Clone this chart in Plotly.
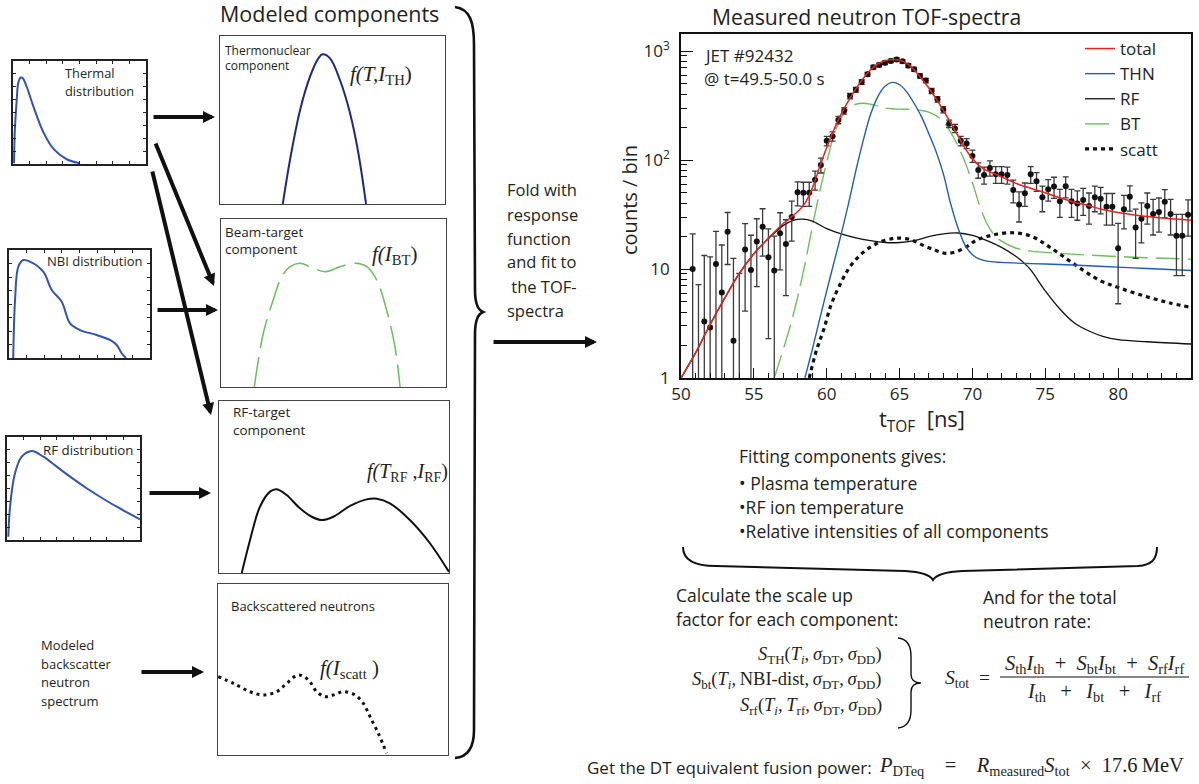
import plotly.graph_objects as go

W, H = 1199, 784
FONT = "Open Sans"
SERIF = "Liberation Serif"
INK = "#231f20"

def X(px):
    return px / W

def Y(py):
    return 1 - py / H

# ---------------- measured TOF spectrum ----------------
tof_x = [50.8, 51.2, 51.6, 52.0, 52.4, 52.8, 53.2, 53.6, 54.0, 54.4, 54.8, 55.2, 55.6, 56.0,
         56.4, 56.8, 57.2, 57.6, 58.0, 58.4, 58.8, 59.2, 59.6, 60.0, 60.4, 60.8, 61.2, 61.6,
         62.0, 62.4, 62.8, 63.2, 63.6, 64.0, 64.4, 64.8, 65.2, 65.6, 66.0, 66.4, 66.8, 67.2,
         67.6, 68.0, 68.4, 68.8, 69.2, 69.6, 70.0, 70.4, 70.8, 71.2, 71.6, 72.0, 72.4, 72.8,
         73.2, 73.6, 74.0, 74.4, 74.8, 75.2, 75.6, 76.0, 76.4, 76.8, 77.2, 77.6, 78.0, 78.4,
         78.8, 79.2, 79.6, 80.0, 80.4, 80.8, 81.2, 81.6, 82.0, 82.4, 82.8, 83.2, 83.6, 84.0,
         84.4, 84.8]
tof_counts = [10.0, 0.7, 3.3, 2.9, 11.1, 6.1, 22.0, 2.2, 0.6, 15.1, 9.8, 17.9, 24.4, 12.8,
              9.7, 21.3, 17.0, 30.0, 50.5, 50.0, 50.0, 66, 90, 150, 165, 233, 283, 386,
              440, 520, 611, 709, 745, 780, 811, 837, 804, 735, 680, 590, 535, 430,
              360, 290, 215, 195, 150, 142, 109, 81, 73, 84.5, 74, 74, 73, 53,
              39, 49.5, 74, 64, 45.5, 54, 57, 41.8, 57.5, 41.8, 40, 43, 37.8, 45.5,
              44, 37.3, 37.3, 15.5, 35.3, 46, 24, 28.9, 37.8, 32, 33.3, 41.4, 32, 20.2,
              20.2, 31.5]
tof_err = [11, 6.5, 10, 10, 11, 10.5, 11, 10.3, 8.5, 11, 10.6, 11, 11.3, 10.5,
           10.3, 11.5, 11.3, 12, 12.5, 12.5, 12.5, 13, 14, 15, 16, 18, 19, 22,
           23, 25, 27, 28, 29, 30, 30, 31, 30, 29, 28, 26, 25, 23,
           21, 19, 17, 17, 15, 15, 14, 13, 13, 13.5, 13, 13, 13, 12.5,
           12, 12, 13, 12.5, 12, 12, 12.5, 12, 12.5, 12, 12, 12, 12, 12,
           12, 12, 12, 10.7, 12, 12, 11.5, 11.5, 12, 11.5, 11.5, 12, 11.5, 11.5,
           11.5, 11.5]

total_x = [50.0, 51.0, 52.0, 53.0, 54.0, 55.0, 56.0, 57.0, 57.5, 58.0, 58.5, 59.0, 59.5, 60.0,
           60.5, 61.0, 61.5, 62.0, 62.5, 63.0, 63.5, 64.0, 64.5, 65.0, 65.5, 66.0, 66.5, 67.0,
           67.5, 68.0, 68.5, 69.0, 69.5, 70.0, 70.5, 71.0, 71.5, 72.0, 73.0, 74.0, 75.0, 76.0,
           77.0, 78.0, 79.0, 80.0, 81.0, 82.0, 83.0, 84.0, 85.0]
total_y = [1.0, 1.7, 3.1, 5.4, 9.1, 13.8, 19.2, 26.0, 29.5, 33.5, 40, 55, 85, 130,
           190, 265, 350, 450, 560, 670, 760, 815, 835, 825, 770, 670, 560, 460,
           365, 285, 220, 168, 128, 103, 88, 80, 75, 70, 61, 55, 50, 45,
           41, 38, 35, 33, 31.5, 30.3, 29.4, 28.7, 28.0]

thn_x = [58.5, 59.0, 59.5, 60.0, 60.5, 61.0, 61.5, 62.0, 62.5, 63.0, 63.5, 64.0, 64.5, 65.0,
         65.5, 66.0, 66.5, 67.0, 67.5, 68.0, 68.5, 69.0, 69.5, 70.0, 70.5, 71.0, 72.0, 74.0,
         76.0, 78.0, 80.0, 82.0, 85.0]
thn_y = [1.0, 1.8, 3.4, 6.3, 11.5, 21, 40, 80, 150, 260, 380, 475, 515, 490,
         420, 330, 250, 175, 120, 75, 40, 24, 16.5, 13.5, 12.3, 11.8, 11.5, 11.2,
         11.0, 10.7, 10.4, 10.1, 9.7]

rf_x = [50.0, 51.0, 52.0, 53.0, 54.0, 55.0, 56.0, 57.0, 57.7, 58.4, 59.0, 60.0, 61.0, 62.0,
        63.0, 64.0, 65.0, 66.0, 67.0, 68.0, 69.0, 70.0, 71.0, 72.0, 73.0, 73.5, 74.0, 75.0,
        76.0, 77.0, 78.0, 79.0, 80.0, 82.0, 85.0]
rf_y = [1.0, 1.7, 3.1, 5.4, 9.1, 13.8, 19.0, 25.0, 28.0, 28.7, 27.5, 23.5, 21.0, 19.3,
        18.2, 17.5, 17.5, 18.2, 19.8, 21.0, 21.4, 20.3, 18.2, 15.8, 13.0, 11.5, 9.8, 6.3,
        4.3, 3.2, 2.7, 2.4, 2.25, 2.15, 2.05]

bt_x = [56.4, 57.0, 57.5, 58.0, 58.5, 59.0, 59.5, 60.0, 60.5, 61.0, 61.5, 62.0, 62.5, 63.0,
        63.5, 64.0, 64.5, 65.0, 65.5, 66.0, 66.5, 67.0, 67.5, 68.0, 68.5, 69.0, 69.5, 70.0,
        70.5, 71.0, 71.5, 72.0, 73.0, 74.0, 76.0, 78.0, 80.0, 82.0, 85.0]
bt_y = [1.0, 1.8, 3.0, 5.5, 11, 24, 50, 95, 170, 245, 300, 325, 332, 325,
        312, 300, 295, 293, 292, 290, 285, 275, 255, 225, 180, 135, 95, 62,
        38, 26, 20.5, 18, 15.5, 14.6, 13.9, 13.4, 13.0, 12.7, 12.3]

scatt_x = [58.8, 59.3, 59.8, 60.3, 61.0, 61.6, 62.5, 63.5, 64.5, 65.0, 65.8, 66.7, 67.5, 68.2,
           69.0, 69.7, 70.3, 71.4, 72.8, 74.1, 75.3, 76.9, 78.7, 80.1, 81.9, 83.5, 85.0]
scatt_y = [1.0, 1.8, 2.8, 4.7, 7.6, 10.5, 14.2, 17.3, 19.0, 19.2, 18.5, 16.3, 14.8, 13.9,
           14.6, 16.3, 18.5, 20.5, 21.5, 19.8, 15.9, 11.3, 7.9, 6.7, 5.6, 4.9, 4.45]

x_ticks = [50, 55, 60, 65, 70, 75, 80]
y_ticks = [1, 10, 100, 1000]
y_ticktext = ["1", "10", "10<sup>2</sup>", "10<sup>3</sup>"]

# ---------------- schematic curves (box units 0..100) ----------------
thermal_u = [0.8, 1.3, 2.8, 4.0, 5.8, 7.5, 10.3, 15.3, 22.8, 30.3, 40.4, 50.4]
thermal_v = [0.7, 30, 62, 79, 84, 83, 75, 56, 31, 15, 4.6, 0.7]
nbi_u = [3.0, 4.3, 6.6, 10.1, 14.9, 24.3, 30.3, 37.4, 43.3, 50.4, 62.2, 71.6, 76.4, 79.9, 83.0]
nbi_v = [0, 53.7, 84.5, 90.7, 89.2, 79.9, 63, 52.1, 32.1, 25.9, 21.3, 16.7, 12, 4.4, 0]
rfd_u = [1, 2.3, 6, 11.1, 18.6, 27.3, 37.4, 47.4, 59.9, 69.9, 82.5, 100]
rfd_v = [3.2, 32.3, 64.8, 80.9, 86.4, 80.9, 71.2, 61.5, 50.2, 42, 32.3, 20.1]
th_u = [27.9, 31.1, 35.6, 40, 43.7, 45.6, 48.9, 53.3, 57.8, 61.5, 64.9]
th_v = [0, 26.2, 56, 75.8, 86.7, 89.1, 86.7, 73.8, 54, 30.2, 0]
btc_u = [14.8, 18.8, 23.2, 27, 30.7, 35.1, 39.6, 46.2, 52.9, 59.6, 64.8, 69.2, 73.6, 77.3, 79.6]
btc_v = [0, 32, 51.8, 65.7, 71.6, 73.6, 71.6, 68.6, 71.6, 73.6, 71.6, 63.7, 45.8, 24, 0]
rfc_u = [9.9, 13.5, 17.8, 22.2, 25.1, 29.4, 35.2, 40.3, 44.7, 49.7, 57, 64.2, 68.6, 74.3, 83,
         91.7, 100]
rfc_v = [0, 19.2, 38.5, 47.3, 48.7, 45.3, 37.6, 32.7, 30.8, 32.7, 39, 42.8, 43.2, 40.5, 30.8,
         17.3, 0.6]
bs_u = [0.1, 6.7, 13.9, 19.7, 25.5, 29.9, 34.9, 39.3, 42.9, 46.5, 50.1, 54.5, 59.6, 63.2,
        66.1, 69.7, 73.3]
bs_v = [45.8, 41.9, 37, 35.1, 37, 41.9, 46.8, 43.9, 37, 34.1, 35.1, 37, 35.1, 30.2, 22.4,
        12.7, 1]

fig = go.Figure()

# main spectrum curves
fig.add_trace(go.Scatter(x=bt_x, y=bt_y, mode="lines", name="BT", legendrank=4,
                         line=dict(color="#6cc05c", width=1.4, dash="24px,8px", shape="spline")))
fig.add_trace(go.Scatter(x=scatt_x, y=scatt_y, mode="lines", name="scatt", legendrank=5,
                         line=dict(color="#111111", width=3.2, dash="4px,4px", shape="spline")))
fig.add_trace(go.Scatter(x=rf_x, y=rf_y, mode="lines", name="RF", legendrank=3,
                         line=dict(color="#111111", width=1.3, shape="spline")))
fig.add_trace(go.Scatter(x=thn_x, y=thn_y, mode="lines", name="THN", legendrank=2,
                         line=dict(color="#1f5cb8", width=1.4, shape="spline")))
err_minus = [min(e, v * 0.98) for e, v in zip(tof_err, tof_counts)]
fig.add_trace(go.Scatter(x=tof_x, y=tof_counts, mode="markers", showlegend=False,
                         marker=dict(color="#111111", size=6),
                         error_y=dict(type="data", array=tof_err, arrayminus=err_minus,
                                      color="#3a3a3a", thickness=1.3, width=3)))
fig.add_trace(go.Scatter(x=total_x, y=total_y, mode="lines", name="total", legendrank=1,
                         line=dict(color="#e8221c", width=1.5, shape="spline")))

# schematic box curves
box_curves = [
    (2, thermal_u, thermal_v, dict(color="#2f55b0", width=2)),
    (3, nbi_u, nbi_v, dict(color="#2f55b0", width=2)),
    (4, rfd_u, rfd_v, dict(color="#2f55b0", width=2)),
    (5, th_u, th_v, dict(color="#1c2a84", width=2)),
    (6, btc_u, btc_v, dict(color="#66c05a", width=1.5, dash="30px,9px")),
    (7, rfc_u, rfc_v, dict(color="#111111", width=2)),
    (8, bs_u, bs_v, dict(color="#111111", width=3, dash="3px,4px")),
]
for n, u, v, ln in box_curves:
    ln = dict(ln, shape="spline")
    fig.add_trace(go.Scatter(x=u, y=v, mode="lines", line=ln, showlegend=False,
                             xaxis=f"x{n}", yaxis=f"y{n}", hoverinfo="skip"))

minor_y = [m * 10 ** d for d in range(0, 3) for m in range(2, 10)]

layout = dict(
    width=W, height=H, margin=dict(l=0, r=0, t=0, b=0, autoexpand=False),
    paper_bgcolor="white", plot_bgcolor="white",
    font=dict(family=FONT, color=INK),
    xaxis=dict(domain=[X(681), X(1191)], range=[50, 85], tickvals=x_ticks,
               ticks="inside", ticklen=10, tickwidth=1.2, tickcolor="#111",
               minor=dict(dtick=1, ticks="inside", ticklen=5, tickwidth=1, tickcolor="#111"),
               showline=True, linewidth=1.6, linecolor="#111", mirror=True, automargin=False,
               showgrid=False, zeroline=False, tickfont=dict(size=17, color=INK)),
    yaxis=dict(domain=[Y(378), Y(34)], type="log", range=[0, 3.156],
               tickvals=y_ticks, ticktext=y_ticktext, ticks="inside", ticklen=12,
               tickwidth=1.2, tickcolor="#111",
               minor=dict(tickvals=minor_y, ticks="inside", ticklen=6, tickwidth=1,
                          tickcolor="#111"),
               showline=True, linewidth=1.6, linecolor="#111", mirror=True, automargin=False,
               showgrid=False, zeroline=False, tickfont=dict(size=17, color=INK),
               ticklabelstandoff=6),
    legend=dict(x=X(1080), y=Y(31), xanchor="left", yanchor="top",
                bgcolor="rgba(0,0,0,0)", font=dict(size=17, color=INK),
                tracegroupgap=4, itemwidth=30),
    showlegend=True,
)

boxes = {
    2: (13, 61, 146, 164, True),
    3: (9, 250, 150, 358, True),
    4: (7, 437, 140, 540, True),
    5: (220, 36, 445, 204, False),
    6: (221, 219, 446, 387, False),
    7: (219, 401, 449, 573, False),
    8: (218, 584, 448, 755, False),
}
for n, (x0, y0, x1, y1, tk) in boxes.items():
    lw = 2 if tk else 1.4
    lc = "#222" if tk else "#444"
    common = dict(range=[0, 100], showgrid=False, zeroline=False, showticklabels=False,
                  showline=True, linewidth=lw, linecolor=lc, fixedrange=True, automargin=False,
                  mirror="ticks" if tk else True, ticks="inside" if tk else "",
                  ticklen=3, tickwidth=1, tickcolor=lc, dtick=12.5)
    layout[f"xaxis{n}"] = dict(domain=[X(x0), X(x1)], anchor=f"y{n}", **common)
    layout[f"yaxis{n}"] = dict(domain=[Y(y1), Y(y0)], anchor=f"x{n}", **common)

fig.update_layout(**layout)

ann = []

def txt(x, y, s, size, anchor="left", family=FONT, angle=0):
    ann.append(dict(x=X(x), y=Y(y), xref="paper", yref="paper", text=s, showarrow=False,
                    xanchor=anchor, yanchor="middle", textangle=angle,
                    font=dict(family=family, size=size, color=INK)))

def arrow(x0, y0, x1, y1):
    ann.append(dict(x=X(x1), y=Y(y1), ax=x0 - x1, ay=y0 - y1, xref="paper", yref="paper",
                    axref="pixel", ayref="pixel", text="", showarrow=True, arrowhead=2,
                    arrowsize=0.6, arrowwidth=4, arrowcolor="#111", standoff=0,
                    startstandoff=0))

SP = "\u2002"
EM = "\u2003"
TS = "\u2009"

# titles
txt(218, 13, "Modeled components", 21.5)
txt(710, 17, "Measured neutron TOF-spectra", 21.2)

# distribution boxes text
txt(63, 73, "Thermal", 12.8)
txt(63, 91, "distribution", 12.8)
txt(45, 261, "NBI distribution", 13)
txt(41, 450, "RF distribution", 13.3)
for i, s in enumerate(["Modeled", "backscatter", "neutron", "spectrum"]):
    txt(39, 645 + 18.5 * i, s, 13)

# component boxes text
txt(223, 50, "Thermonuclear", 12)
txt(223, 65, "component", 12)
txt(223, 232, "Beam-target", 13.5)
txt(223, 249, "component", 13.5)
txt(231, 412, "RF-target", 13.5)
txt(231, 430, "component", 13.5)
txt(229, 606, "Backscattered neutrons", 13)

txt(348, 75, "<i>f(T,I</i><sub>TH</sub>)", 21, family=SERIF)
txt(370, 255, "<i>f(I</i><sub>BT</sub>)", 21, family=SERIF)
txt(365, 472, "<i>f(T</i><sub>RF</sub> ,<i>I</i><sub>RF</sub>)", 20, family=SERIF)
txt(318, 669, "<i>f(I</i><sub>scatt</sub> )", 21, family=SERIF)

# fold text
for i, s in enumerate(["Fold with", "response", "function", "and fit to", " the TOF-", "spectra"]):
    txt(505, 190 + 24 * i, s, 16.5)

# main plot text
txt(702, 55, "JET #92432", 17)
txt(702, 79, "@ t=49.5-50.0 s", 17)
txt(922, 420, "t<sub>TOF</sub>  [ns]", 22, anchor="center")
txt(630, 200, "counts / bin", 20, anchor="center", angle=-90)

# fitting text
txt(737, 456, "Fitting components gives:", 17.5)
txt(737, 483, "• Plasma temperature", 17.5)
txt(737, 507, "•RF ion temperature", 17.5)
txt(737, 531, "•Relative intensities of all components", 17.5)

txt(674, 595, "Calculate the scale up", 17.5)
txt(674, 619, "factor for each component:", 17.5)
txt(981, 597, "And for the total", 17.5)
txt(981, 621, "neutron rate:", 17.5)

sig = "<i>σ</i>"
c = "," + TS
txt(884, 655, f"<i>S</i><sub>TH</sub>(<i>T<sub>i</sub></i>{c}{sig}<sub>DT</sub>{c}{sig}<sub>DD</sub>)",
    18.5, anchor="right", family=SERIF)
txt(884, 680, f"<i>S</i><sub>bt</sub>(<i>T<sub>i</sub></i>{c}NBI-dist{c}{sig}<sub>DT</sub>{c}{sig}<sub>DD</sub>)",
    18.5, anchor="right", family=SERIF)
txt(884, 706, f"<i>S</i><sub>rf</sub>(<i>T<sub>i</sub></i>{c}<i>T</i><sub>rf</sub>{c}{sig}<sub>DT</sub>{c}{sig}<sub>DD</sub>)",
    18.5, anchor="right", family=SERIF)
txt(943, 679, f"<i>S</i><sub>tot</sub>{SP}={SP}", 19.5, family=SERIF)
txt(1094, 664, f"<i>S</i><sub>th</sub><i>I</i><sub>th</sub>{SP}+{SP}<i>S</i><sub>bt</sub><i>I</i><sub>bt</sub>{SP}+{SP}<i>S</i><sub>rf</sub><i>I</i><sub>rf</sub>",
    20.5, anchor="center", family=SERIF)
txt(1094, 692, f"<i>I</i><sub>th</sub>{SP}{TS}+{SP}{TS}<i>I</i><sub>bt</sub>{SP}{TS}+{SP}{TS}<i>I</i><sub>rf</sub>",
    20.5, anchor="center", family=SERIF)

txt(585, 767, "Get the DT equivalent fusion power:", 17)
txt(877, 766, f"<i>P</i><sub>DTeq</sub>{EM}={EM}<i>R</i><sub>measured</sub><i>S</i><sub>tot</sub>{SP}×{SP}17.6{TS}MeV",
    20.5, family=SERIF)

# arrows
arrow(152, 117, 215, 117)
arrow(155, 142, 214, 286)
arrow(152, 170, 211, 415)
arrow(156, 310, 218, 310)
arrow(148, 493, 211, 493)
arrow(140, 672, 204, 672)
arrow(492, 342, 597, 342)

fig.update_layout(annotations=ann)

# braces and fraction bar
def path(cmds):
    out = []
    for cm in cmds:
        if isinstance(cm, str):
            out.append(cm)
        else:
            out.append(f"{X(cm[0]):.5f},{Y(cm[1]):.5f}")
    return " ".join(out)

brace_v = path(["M", (455, 7), "C", (470, 9), (474, 22), (474, 45), "L", (475, 290),
                "C", (475, 303), (478, 310), (483, 312), "C", (478, 314), (475, 321), (475, 334),
                "L", (474, 730), "C", (474, 748), (468, 757), (455, 758)])
brace_h = path(["M", (683, 547), "C", (683, 560), (694, 566), (716, 566), "L", (905, 571),
                "C", (922, 572), (930, 575), (933, 580), "C", (936, 575), (944, 572), (962, 571),
                "L", (1138, 566), "C", (1151, 565), (1157, 560), (1157, 547)])
brace_s = path(["M", (898, 638), "C", (907, 639), (911, 646), (911, 656), "L", (911, 674),
                "C", (911, 680), (914, 683), (921, 683), "C", (914, 683), (911, 686), (911, 692),
                "L", (911, 710), "C", (911, 720), (907, 727), (898, 728)])
shapes = [
    dict(type="path", path=brace_v, xref="paper", yref="paper", line=dict(color="#111", width=2.6)),
    dict(type="path", path=brace_h, xref="paper", yref="paper", line=dict(color="#111", width=2)),
    dict(type="path", path=brace_s, xref="paper", yref="paper", line=dict(color="#111", width=1.4)),
    dict(type="line", x0=X(1000), x1=X(1189), y0=Y(677), y1=Y(677), xref="paper", yref="paper",
         line=dict(color="#111", width=1.2)),
]
fig.update_layout(shapes=shapes)

fig.write_html("out.html")
